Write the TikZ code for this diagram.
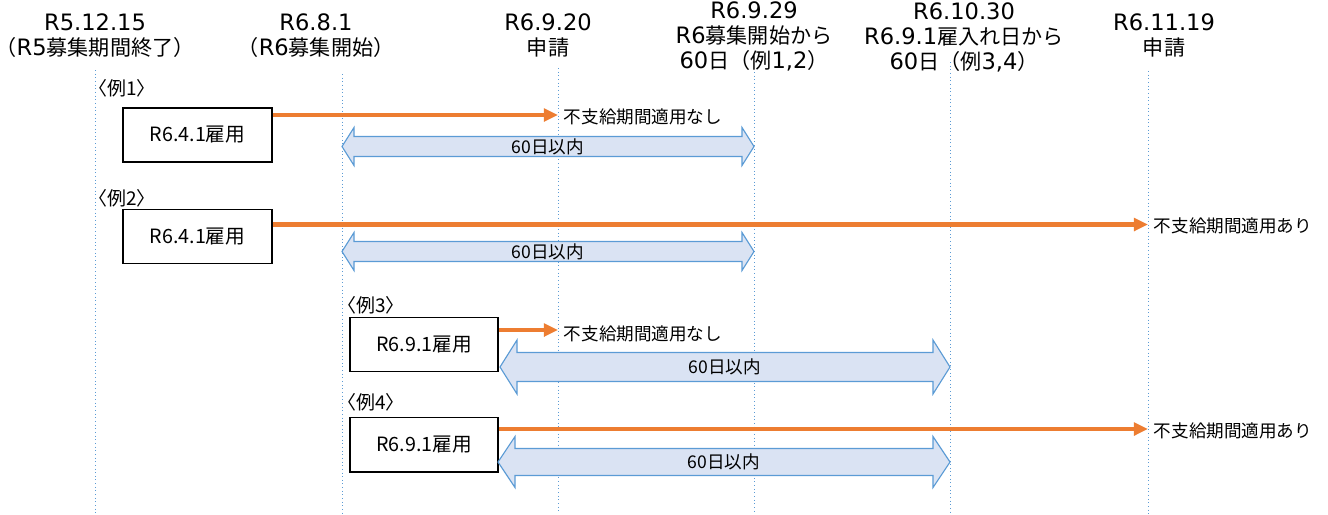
\documentclass[tikz,border=0pt]{standalone}
\usepackage{fontspec}
\setmainfont{Noto Sans CJK JP}
\newfontfamily\suji{DejaVu Sans}[Scale=1.07]
\usetikzlibrary{positioning}
\usetikzlibrary{arrows.meta}

\definecolor{kikanfill}{HTML}{DAE3F3}
\definecolor{kikanline}{HTML}{5B9BD5}
\definecolor{shikyu}{HTML}{ED7D31}
\definecolor{senline}{HTML}{5B9BD5}

\tikzset{
  midashi/.style={align=center, inner sep=0pt, font=\fontsize{15}{17.8}\selectfont},
  koyou/.style={draw=black, line width=1.4pt, minimum width=3.7cm, minimum height=1.35cm, inner sep=0pt, font=\fontsize{14}{16}\selectfont},
  rei/.style={anchor=west, inner sep=0pt, font=\fontsize{13.5}{15}\selectfont},
  chushaku/.style={anchor=west, inner sep=0pt, font=\fontsize{12.5}{15}\selectfont},
  hiduke/.style={draw=senline, dotted, line width=0.6pt},
  fushikyu/.style={draw=shikyu, line width=3pt, -{Triangle[length=10pt,width=9pt]}},
  kikan/.style={draw=kikanline, fill=kikanfill, line width=0.8pt, line join=miter},
}

\begin{document}
\begin{tikzpicture}[x=0.025cm, y=-0.025cm]
  \useasboundingbox (0,0) rectangle (1328,514);

  % dotted date lines
  \foreach \n/\x/\y in {d1/95/70, d2/342/74, d3/558/68, d4/754/72, d5/950/62, d6/1148/71} {
    \coordinate (\n-top) at (\x,\y);
    \coordinate (\n-bot) at (\x,514);
    \draw[hiduke] (\n-top) -- (\n-bot);
  }

  % headings
  \node[midashi] (h1) at (95,35.5) {{\suji R5.12.15}\\（{\suji R5}募集期間終了）};
  \node[midashi] (h2) at (316,35.5) {{\suji R6.8.1}\\（{\suji R6}募集開始）};
  \node[midashi] (h3) at (548,35.5) {{\suji R6.9.20}\\申請};
  \node[midashi] (h4) at (754,36.5) {{\suji R6.9.29}\\{\suji R6}募集開始から\\{\suji 60}日（例{\suji 1,2}）};
  \node[midashi] (h5) at (964,37) {{\suji R6.10.30}\\{\suji R6.9.1}雇入れ日から\\{\suji 60}日（例{\suji 3,4}）};
  \node[midashi] (h6) at (1164,35.5) {{\suji R6.11.19}\\申請};

  % examples
  \node[rei] (r1) at (88,88) {〈例1〉};
  \node[koyou] (b1) at (197.5,135) {R6.4.1雇用};
  \node[rei] (r2) at (88,198) {〈例2〉};
  \node[koyou] (b2) at (197.5,236.5) {R6.4.1雇用};
  \node[rei] (r3) at (337,305) {〈例3〉};
  \node[koyou] (b3) at (424,344.5) {R6.9.1雇用};
  \node[rei] (r4) at (337,402) {〈例4〉};
  \node[koyou] (b4) at (424,444.5) {R6.9.1雇用};

  % orange arrows
  \coordinate (e1) at (d3-top |- 0,115);
  \coordinate (e2) at (d6-top |- 0,224.5);
  \coordinate (e3) at (d3-top |- 0,330);
  \coordinate (e4) at (d6-top |- 0,429);
  \draw[fushikyu] (b1.east |- e1) -- (e1);
  \draw[fushikyu] (b2.east |- e2) -- (e2);
  \draw[fushikyu] (b3.east |- e3) -- (e3);
  \draw[fushikyu] (b4.east |- e4) -- (e4);
  \node[chushaku] (t1) at ([xshift=4pt,yshift=-1.5pt]e1) {不支給期間適用なし};
  \node[chushaku] (t2) at ([xshift=4pt,yshift=-1pt]e2) {不支給期間適用あり};
  \node[chushaku] (t3) at ([xshift=4pt,yshift=-3pt]e3) {不支給期間適用なし};
  \node[chushaku] (t4) at ([xshift=4pt,yshift=-1pt]e4) {不支給期間適用あり};

  % 60 days spans
  \foreach \n/\xa/\xb/\yc/\s/\h/\l in {1/342/754/146.5/10/19/12, 2/342/754/251.5/10/19/12, 3/500/950/367/14.5/27/17, 4/498/950/462/13.5/25.5/17} {
    \draw[kikan] (\xa,\yc) -- (\xa+\l,\yc-\h) -- (\xa+\l,\yc-\s) -- (\xb-\l,\yc-\s)
      -- (\xb-\l,\yc-\h) -- (\xb,\yc) -- (\xb-\l,\yc+\h) -- (\xb-\l,\yc+\s)
      -- (\xa+\l,\yc+\s) -- (\xa+\l,\yc+\h) -- cycle;
    \node[font=\fontsize{12.5}{14}\selectfont, inner sep=0pt] (k\n) at ({(\xa+\xb)/2},\yc) {60日以内};
  }
\end{tikzpicture}
\end{document}
